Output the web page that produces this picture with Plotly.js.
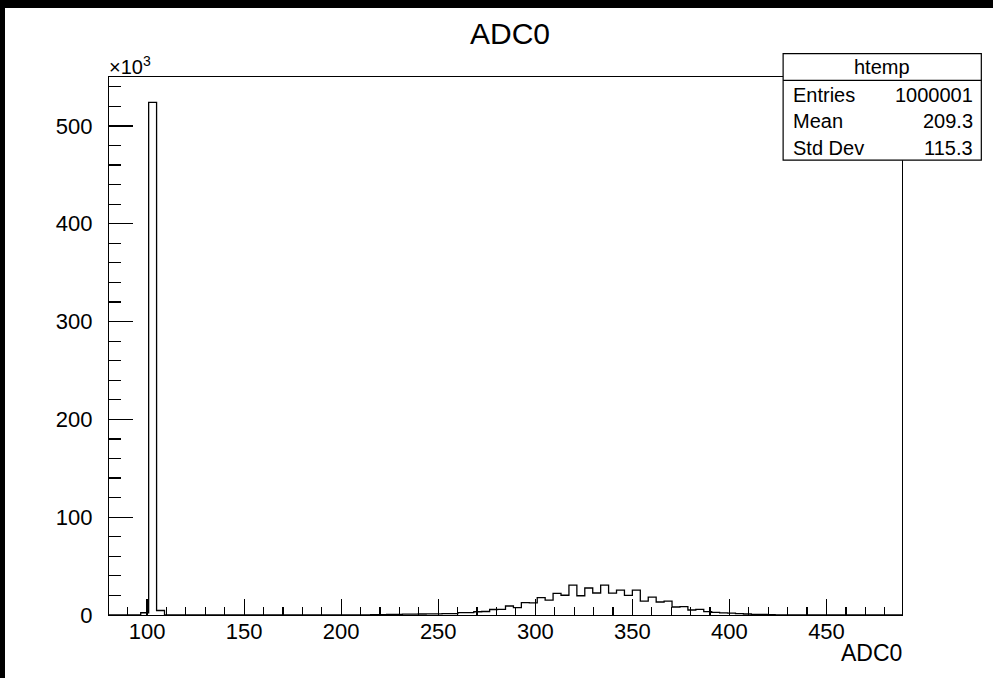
<!DOCTYPE html>
<html><head><meta charset="utf-8">
<script src="https://cdn.plot.ly/plotly-3.0.1.min.js"></script>
<style>
html,body{margin:0;padding:0;background:#000;overflow:hidden;width:993px;height:678px}
#chart{position:absolute;left:5px;top:8px;width:988px;height:670px;background:#fff}
</style>
</head><body><div id="chart"></div>
<script>
// ---- data ----
const xMin = 80.4;
const binWidth = 4.085;
// bin contents in thousands (100 bins)
const counts = [
  0, 0, 0, 0, 2.3, 524, 4.6, 0, 0, 0,
  0, 0, 0, 0, 0, 0, 0, 0, 0, 0,
  0, 0, 0, 0, 0, 0, 0, 0, 0, 0,
  0.1, 0.15, 0.2, 0.3, 0.4, 0.5, 0.6, 0.8, 0.9, 1.0,
  1.1, 1.2, 1.4, 1.5, 2.4, 2.5, 3.3, 3.6, 5.6, 5.8,
  9.2, 7.5, 12.6, 12.4, 17.7, 15.3, 22.1, 20.2, 30.5, 19.7,
  27.6, 22.5, 30.5, 22.3, 25.4, 20.0, 25.4, 14.1, 18.2, 13.3,
  14.1, 8.2, 8.5, 5.1, 5.8, 3.4, 2.7, 2.1, 1.9, 1.4,
  1.0, 0.7, 0.5, 0.3, 0.2, 0.15, 0.1, 0, 0, 0,
  0, 0, 0, 0, 0, 0, 0, 0, 0, 0
];
const histName = "htemp";
const statLabels = ["Entries", "Mean", "Std Dev"];
const statValues = ["1000001", "209.3", "115.3"];
const chartTitle = "ADC0";
const xTitle = "ADC0";
const yExponent = "×10<sup>3</sup>";

// ---- build ----
const edges = counts.map((_, i) => xMin + i * binWidth);
edges.push(xMin + counts.length * binWidth);
const ys = counts.concat([counts[counts.length - 1]]);

// plot area in page pixels (for placing stats box / labels)
const PL = 108.5, PR = 902.3, PT = 76.7, PB = 615.5;
const px = x => (x - PL) / (PR - PL);
const py = y => (PB - y) / (PB - PT);

const FONT = "Liberation Sans, Arial, Helvetica, sans-serif";

const trace = {
  type: 'scatter', mode: 'lines',
  x: edges, y: ys,
  line: {shape: 'hv', color: '#000', width: 1.3},
  hoverinfo: 'skip', showlegend: false
};

const annotations = [
  {text: yExponent, xref: 'paper', yref: 'paper', x: px(106), y: py(65), xanchor: 'left', yanchor: 'middle',
   showarrow: false, font: {family: FONT, size: 20, color: '#000'}},
  {text: xTitle, xref: 'paper', yref: 'paper', x: px(904), y: py(654), xanchor: 'right', yanchor: 'middle',
   showarrow: false, font: {family: FONT, size: 23, color: '#000'}},
  {text: histName, xref: 'paper', yref: 'paper', x: px(882), y: py(66.5), xanchor: 'center', yanchor: 'middle',
   showarrow: false, font: {family: FONT, size: 20, color: '#000'}}
];
const rowY = [94.3, 121, 147.7];
statLabels.forEach((lab, i) => {
  annotations.push({text: lab, xref: 'paper', yref: 'paper', x: px(791), y: py(rowY[i]), xanchor: 'left', yanchor: 'middle',
    showarrow: false, font: {family: FONT, size: 20, color: '#000'}});
  annotations.push({text: statValues[i], xref: 'paper', yref: 'paper', x: px(975), y: py(rowY[i]), xanchor: 'right', yanchor: 'middle',
    showarrow: false, font: {family: FONT, size: 20, color: '#000'}});
});

const shapes = [
  {type: 'rect', xref: 'paper', yref: 'paper', x0: px(783.3), x1: px(981.7), y0: py(160), y1: py(53.3),
   fillcolor: '#fff', line: {color: '#000', width: 1.2}, layer: 'above'},
  {type: 'line', xref: 'paper', yref: 'paper', x0: px(783.3), x1: px(981.7), y0: py(80), y1: py(80),
   line: {color: '#000', width: 1.2}, layer: 'above'}
];

const layout = {
  width: 988, height: 670,
  paper_bgcolor: '#fff', plot_bgcolor: '#fff',
  margin: {l: PL - 5, r: 988 - (PR - 5), t: PT - 8, b: 670 - (PB - 8), pad: 0},
  title: {text: chartTitle, x: (510 - 5) / 988, xanchor: 'center', y: 1 - (33 - 8) / 670, yanchor: 'middle',
          font: {family: FONT, size: 30, color: '#000'}},
  font: {family: FONT, color: '#000'},
  xaxis: {
    range: [xMin, xMin + counts.length * binWidth],
    tick0: 0, dtick: 50, ticks: 'inside', ticklen: 16, tickwidth: 1.2, tickcolor: '#000',
    minor: {dtick: 10, ticks: 'inside', ticklen: 8, tickwidth: 1.2, tickcolor: '#000', showgrid: false},
    showline: true, linecolor: '#000', linewidth: 1.2, mirror: true,
    showgrid: false, zeroline: false,
    tickfont: {family: FONT, size: 22, color: '#000'}, ticklabelstandoff: -4
  },
  yaxis: {
    range: [0, 550],
    tick0: 0, dtick: 100, ticks: 'inside', ticklen: 24, tickwidth: 1.2, tickcolor: '#000',
    minor: {dtick: 20, ticks: 'inside', ticklen: 12, tickwidth: 1.2, tickcolor: '#000', showgrid: false},
    showline: true, linecolor: '#000', linewidth: 1.2, mirror: true,
    showgrid: false, zeroline: false,
    tickfont: {family: FONT, size: 22, color: '#000'}, ticklabelstandoff: 11
  },
  annotations: annotations,
  shapes: shapes
};

Plotly.newPlot('chart', [trace], layout, {staticPlot: true, displayModeBar: false});
</script>
</body></html>
